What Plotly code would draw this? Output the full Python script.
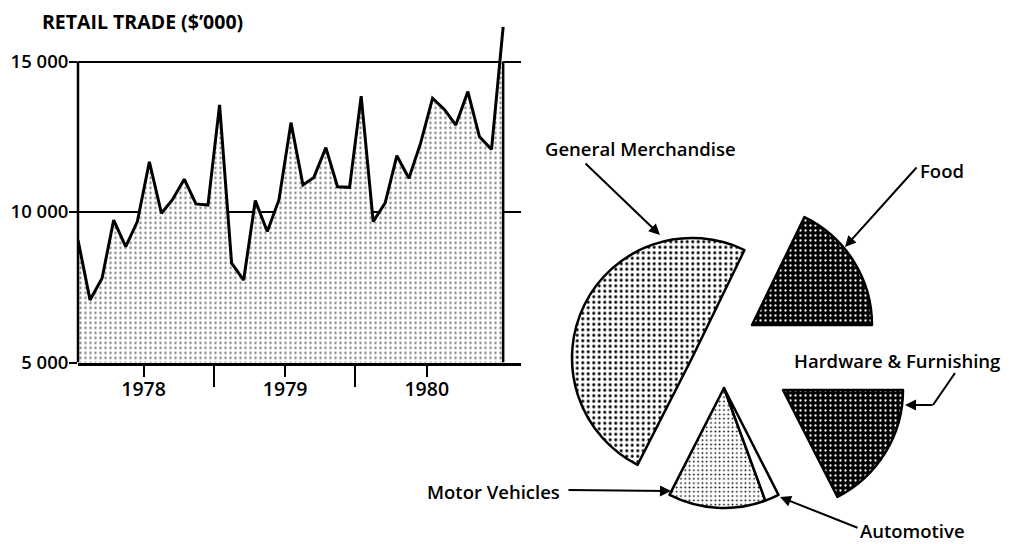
import plotly.graph_objects as go
import pandas as pd

# page body has an 8px margin: figure origin sits at (8, 8) in the window
OFF = 8
W, H = 1009 - OFF, 544 - OFF

# ---------------- data ----------------
months = ["1977-07", "1977-08", "1977-09", "1977-10", "1977-11", "1977-12",
          "1978-01", "1978-02", "1978-03", "1978-04", "1978-05", "1978-06",
          "1978-07", "1978-08", "1978-09", "1978-10", "1978-11", "1978-12",
          "1979-01", "1979-02", "1979-03", "1979-04", "1979-05", "1979-06",
          "1979-07", "1979-08", "1979-09", "1979-10", "1979-11", "1979-12",
          "1980-01", "1980-02", "1980-03", "1980-04", "1980-05", "1980-06",
          "1980-07"]
retail = [9070, 7080, 7800, 9730, 8850, 9680,
          11670, 9960, 10400, 11090, 10270, 10230,
          13560, 8300, 7740, 10380, 9350, 10400,
          12970, 10900, 11150, 12140, 10840, 10820,
          13850, 9680, 10310, 11870, 11120, 12280,
          13780, 13400, 12890, 14000, 12500, 12080,
          16150]
year_ticks = ["1978-01-01", "1979-01-01", "1980-01-01"]
year_labels = ["1978", "1979", "1980"]
half_ticks = ["1978-07-01", "1979-07-01"]
y_ticks = [5000, 10000, 15000]
y_labels = ["5 000", "10 000", "15 000"]

pie_labels = ["Food", "General Merchandise", "Motor Vehicles", "Automotive",
              "Hardware & Furnishing"]
pie_values = [17.8, 49.7, 13.1, 1.9, 17.5]

# ---------------- styles ----------------
FONT = "Open Sans"
x_mid = pd.to_datetime(months) + pd.Timedelta(days=15)

slice_style = {
    "Food": dict(shape=".", bg="black", fg="white", size=5, sol=0.17, color="black"),
    "General Merchandise": dict(shape=".", bg="white", fg="black", size=5.5, sol=0.24, color="white"),
    "Motor Vehicles": dict(shape=".", bg="white", fg="black", size=4.3, sol=0.14, color="white"),
    "Automotive": dict(shape="", bg="white", fg="black", size=4, sol=0.2, color="white"),
    "Hardware & Furnishing": dict(shape=".", bg="black", fg="white", size=5, sol=0.17, color="black"),
}
# apex pixel position (window coords) of each exploded piece
groups = [
    (["Food"], (752, 325)),
    (["General Merchandise"], (692, 358)),
    (["Motor Vehicles", "Automotive"], (724, 388)),
    (["Hardware & Furnishing"], (783, 390)),
]
R = 120
# first slice (Food) starts at 3 o'clock and runs counter-clockwise
ROT = 90 - 360 * pie_values[0] / sum(pie_values)


def px(x, y):
    return (x - OFF) / W, 1 - (y - OFF) / H


def dom(cx, cy, r=R):
    return dict(x=[(cx - r - OFF) / W, (cx + r - OFF) / W],
                y=[1 - (cy + r - OFF) / H, 1 - (cy - r - OFF) / H])


fig = go.Figure()

fig.add_trace(go.Scatter(
    x=x_mid, y=retail, mode="lines", fill="tozeroy",
    line=dict(color="black", width=3),
    fillcolor="white",
    fillpattern=dict(shape=".", bgcolor="white", fgcolor="black", size=5, solidity=0.18),
    hoverinfo="skip", showlegend=False,
))

TRANSP = "rgba(0,0,0,0)"
for names, (cx, cy) in groups:
    colors, shapes, bgs, fgs, sizes, sols, lw = [], [], [], [], [], [], []
    for lab in pie_labels:
        st = slice_style[lab]
        if lab in names:
            colors.append(st["color"])
            shapes.append(st["shape"])
            bgs.append(st["bg"])
            fgs.append(st["fg"])
            sizes.append(st["size"])
            sols.append(st["sol"])
            lw.append(2.5)
        else:
            colors.append(TRANSP)
            shapes.append("")
            bgs.append(TRANSP)
            fgs.append(TRANSP)
            sizes.append(5)
            sols.append(0.3)
            lw.append(0)
    fig.add_trace(go.Pie(
        labels=pie_labels, values=pie_values, sort=False,
        direction="counterclockwise", rotation=ROT,
        domain=dom(cx, cy), textinfo="none", hoverinfo="skip",
        showlegend=False,
        marker=dict(colors=colors,
                    line=dict(color="black", width=lw),
                    pattern=dict(shape=shapes, bgcolor=bgs, fgcolor=fgs,
                                 size=sizes, solidity=sols, fillmode="replace")),
    ))

# frame lines of the area chart
fig.add_shape(type="line", xref="x domain", yref="y", x0=0, x1=0, y0=5000, y1=15000,
              line=dict(color="black", width=2.5))
fig.add_shape(type="line", xref="x", yref="y", x0=x_mid[-1], x1=x_mid[-1], y0=5000, y1=15000,
              line=dict(color="black", width=2.5))

# labels + arrows for the pie
lab_font = dict(family=FONT, size=18.5, color="black", weight=600)
text_pos = {
    "General Merchandise": (640, 148),
    "Food": (942, 170),
    "Hardware & Furnishing": (897, 360),
    "Motor Vehicles": (493, 491),
    "Automotive": (912, 530),
}
for lab, (tx, ty) in text_pos.items():
    xx, yy = px(tx, ty)
    fig.add_annotation(x=xx, y=yy, xref="paper", yref="paper", text=lab, showarrow=False,
                       font=lab_font, xanchor="center", yanchor="middle")

arrows = [  # (tail, head) in window pixels
    ((585, 163), (660, 235)),
    ((917, 167), (845, 247)),
    ((933, 405), (905, 405)),
    ((568, 490), (671, 491)),
    ((858, 528), (780, 497)),
]
for (tx, ty), (hx, hy) in arrows:
    xx, yy = px(hx, hy)
    fig.add_annotation(x=xx, y=yy, xref="paper", yref="paper", text="",
                       showarrow=True, ax=tx - hx, ay=ty - hy, axref="pixel", ayref="pixel",
                       arrowhead=2, arrowsize=1.1, arrowwidth=2, arrowcolor="black",
                       borderpad=0)
x0, y0 = px(955, 373)
x1, y1 = px(933, 405)
fig.add_shape(type="line", xref="paper", yref="paper", x0=x0, y0=y0, x1=x1, y1=y1,
              line=dict(color="black", width=2))

tx0, ty0 = px(42, 22)
xd0, _ = px(78, 0)
xd1, _ = px(521, 0)
_, yd0 = px(0, 362.5)
_, yd1 = px(0, 25.4)

fig.update_layout(
    width=W, height=H,
    margin=dict(l=0, r=0, t=0, b=0),
    paper_bgcolor="white", plot_bgcolor="rgba(0,0,0,0)",
    font=dict(family=FONT, color="black"),
    title=dict(text="<b>RETAIL TRADE ($’000)</b>", x=tx0, xanchor="left",
               y=ty0, yanchor="middle",
               font=dict(family=FONT, size=19.5, color="black")),
    xaxis=dict(
        domain=[xd0, xd1], range=[x_mid[0], "1980-08-31"], type="date",
        showgrid=False, zeroline=False, showline=True, linecolor="black", linewidth=2.5,
        tickmode="array", tickvals=year_ticks, ticktext=year_labels,
        ticks="outside", ticklen=12, tickwidth=2, tickcolor="black",
        tickfont=dict(family=FONT, size=19.5, weight=600), ticklabelstandoff=-5,
        minor=dict(tickmode="array", tickvals=half_ticks, ticks="outside", ticklen=22,
                   tickwidth=2, tickcolor="black", showgrid=False),
        automargin=False, fixedrange=True,
    ),
    yaxis=dict(
        domain=[yd0, yd1], range=[5000, 16200],
        showgrid=True, gridcolor="black", gridwidth=2, zeroline=False, showline=False,
        tickmode="array", tickvals=y_ticks, ticktext=y_labels,
        ticks="outside", ticklen=8, tickwidth=2, tickcolor="black",
        tickfont=dict(family=FONT, size=18.5, weight=600), ticklabelstandoff=-3,
        automargin=False, fixedrange=True,
    ),
)

fig.write_html("out.html")
